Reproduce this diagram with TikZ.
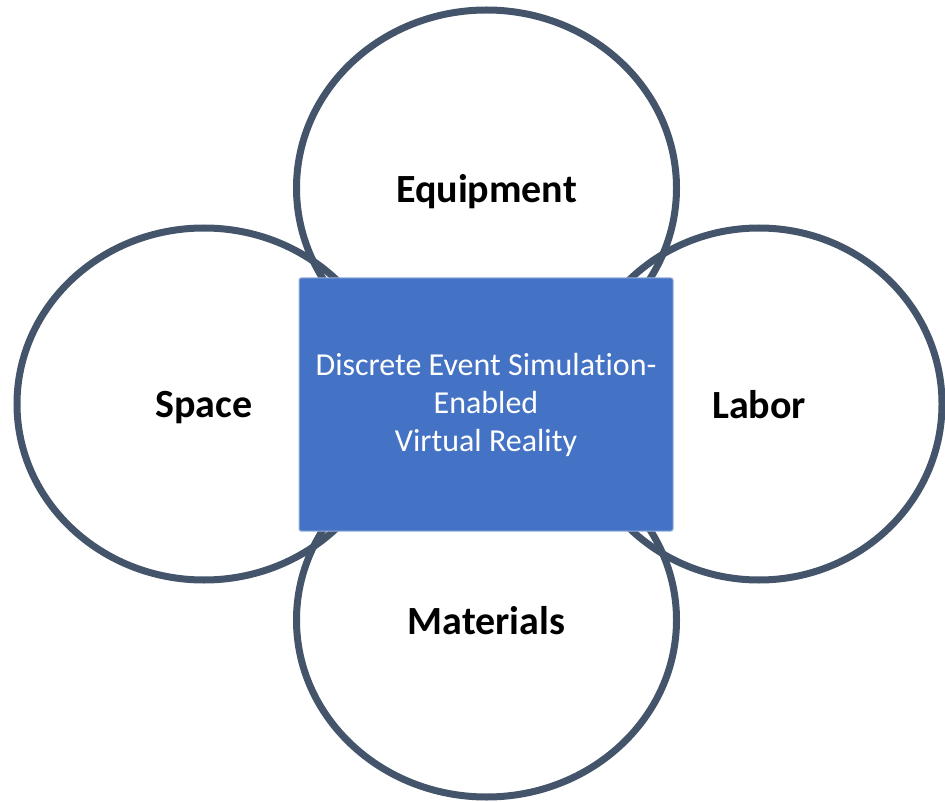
\documentclass[tikz,border=0pt]{standalone}
\usepackage{fontspec}
\setmainfont{Carlito}[Ligatures=NoCommon]
\usepackage{tikz}
\usetikzlibrary{shapes.geometric}
\definecolor{ringgray}{RGB}{68,84,106}
\definecolor{coreblue}{RGB}{68,114,196}
\tikzset{
  ring/.style={
    draw=ringgray, ellipse, inner sep=0pt, text depth=0pt,
    minimum width=380pt, minimum height=356pt,
    font=\fontsize{40}{44}\selectfont\bfseries,
    line width=7pt
  },
  core/.style={
    rectangle, rounded corners=2pt,
    minimum width=374pt, minimum height=253pt,
    fill=coreblue, draw=coreblue!55!white, text=white,
    font=\fontsize{32}{38}\selectfont, align=center,
    line width=1pt
  }
}

\begin{document}
\begin{tikzpicture}[x=1pt, y=-1pt]
  \useasboundingbox (0,0) rectangle (945,802);

  % four resource rings
  \node[ring] (equip) at (486.5,188) {Equipment};
  \node[ring, minimum height=354pt] (mater) at (486.5,620) {Materials};
  \node[ring, minimum width=374pt, minimum height=352pt] (space) at (204,404) {Space};
  \node[ring, minimum width=366pt, minimum height=352pt] (labor) at (759,404) {Labor};

  % centre box
  \node[core] (desvr) at (486,404.5)
    {Discrete Event Simulation-\\Enabled\\Virtual Reality};
\end{tikzpicture}
\end{document}
